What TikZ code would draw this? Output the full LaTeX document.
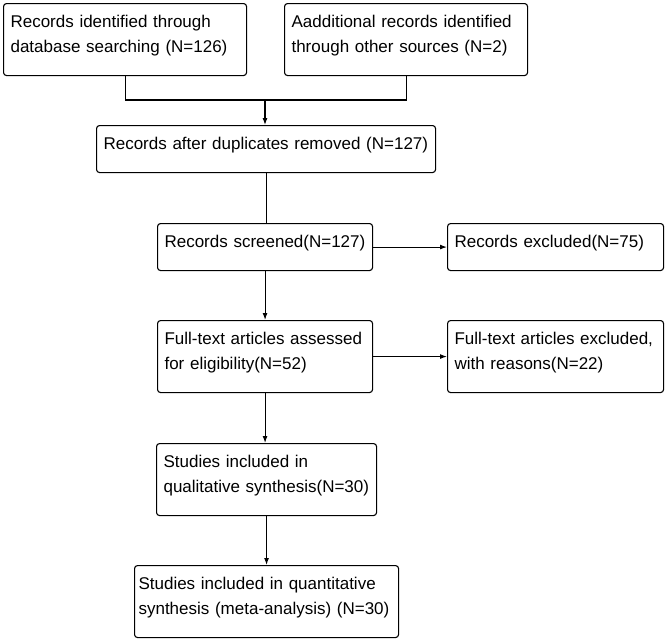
\documentclass[tikz,border=0pt]{standalone}
\usepackage{fontspec}
\setmainfont{Liberation Sans}
\usetikzlibrary{arrows.meta}

\begin{document}
\begin{tikzpicture}[
  x=1pt, y=-1pt,
  font=\fontsize{17}{25}\selectfont,
  box/.style={draw=black, line width=1.1pt, rounded corners=3pt, anchor=north west,
    align=left, inner xsep=7pt, inner ysep=6pt, text height=18pt},
  one/.style={box, text depth=17pt},
  two/.style={box, text depth=42pt},
  link/.style={line width=1.1pt},
  arr/.style={link, -{Latex[length=7pt,width=5pt]}},
]
\useasboundingbox (0,0) rectangle (666,640);

% ---- identification ----
\node[two, text width=229pt] (db) at (3,3)
  {Records identified through\\database searching (N=126)};
\node[two, text width=229pt] (other) at (284,3)
  {Aadditional records identified\\through other sources (N=2)};
\coordinate (merge) at (265,100);

% ---- screening ----
\node[one, text width=325pt] (dup) at (96,125)
  {Records after duplicates removed (N=127)};
\node[one, text width=201pt] (screen) at (157,223)
  {Records screened(N=127)};
\node[one, text width=202pt] (excl) at (447,223)
  {Records excluded(N=75)};

% ---- eligibility ----
\node[two, text width=201pt] (full) at (157,320)
  {Full-text articles assessed\\for eligibility(N=52)};
\node[two, text width=202pt] (fullex) at (447,320)
  {Full-text articles excluded,\\with reasons(N=22)};

% ---- included ----
\node[two, text width=206pt] (qual) at (156,443)
  {Studies included in\\qualitative synthesis(N=30)};
\node[two, inner xsep=4pt, text width=256pt] (quant) at (134,565)
  {Studies included in quantitative\\synthesis (meta-analysis) (N=30)};

% connectors
\draw[link] (db.south) |- (merge) -| (other.south);
\draw[arr] (merge) -- (merge |- dup.north);
\draw[link] (dup.south) -- (dup.south |- screen.north);
\draw[arr] (screen.east) -- (excl.west);
\draw[arr] (screen.south) -- (screen.south |- full.north);
\draw[arr] (full.east) -- (full.east -| fullex.west);
\draw[arr] (full.south) -- (full.south |- qual.north);
\draw[arr] (qual.south) -- (qual.south |- quant.north);

\end{tikzpicture}
\end{document}
